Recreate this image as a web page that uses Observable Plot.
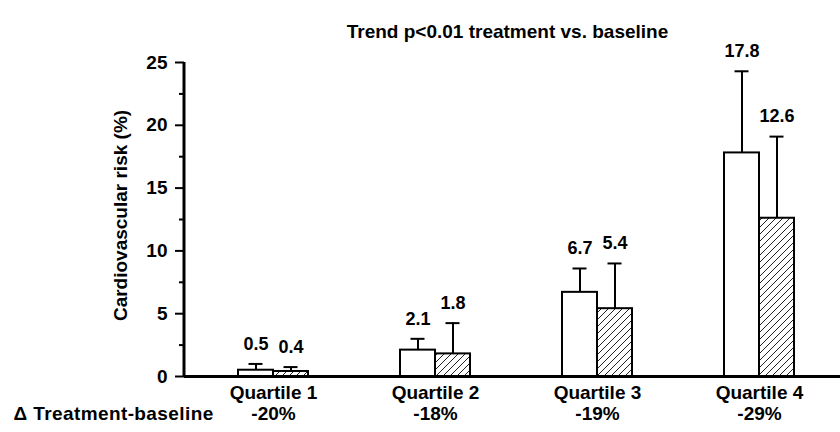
<!DOCTYPE html>
<html><head><meta charset="utf-8">
<script src="https://cdn.jsdelivr.net/npm/d3@7"></script>
<script src="https://cdn.jsdelivr.net/npm/@observablehq/plot@0.6"></script>
<style>
body{margin:0;background:#fff;font-family:"Liberation Sans",Arial,sans-serif}
#chart svg{display:block}
</style>
</head><body>
<svg width="0" height="0" style="position:absolute"><defs>
<pattern id="hatch" patternUnits="userSpaceOnUse" width="7" height="7">
<path d="M-1,1 l2,-2 M0,7 l7,-7 M6,8 l2,-2" stroke="#222" stroke-width="1"/>
</pattern></defs></svg>
<div id="chart"></div>
<script>
const title = "Trend p<0.01 treatment vs. baseline";
const yLabel = "Cardiovascular risk (%)";
const deltaLabel = "Δ Treatment-baseline";
const quartiles = ["Quartile 1", "Quartile 2", "Quartile 3", "Quartile 4"];
const deltas = ["-20%", "-18%", "-19%", "-29%"];
const baseline = [0.5, 2.1, 6.7, 17.8];
const baselineErr = [0.5, 0.9, 1.9, 6.5];
const treatment = [0.4, 1.8, 5.4, 12.6];
const treatmentErr = [0.35, 2.45, 3.6, 6.5];
const majorTicks = [0, 5, 10, 15, 20, 25];
const minorTicks = [2.5, 7.5, 12.5, 17.5, 22.5];

const rows = quartiles.map((q, i) => ({
  q, delta: deltas[i],
  base: baseline[i], baseTop: baseline[i] + baselineErr[i],
  treat: treatment[i], treatTop: treatment[i] + treatmentErr[i]
}));

const half = 81, bw = 35, cap = 7;
const font = 19;
const yMax = majorTicks[majorTicks.length - 1];

const chart = Plot.plot({
  width: 840, height: 432,
  marginLeft: 184, marginRight: 0, marginTop: 62, marginBottom: 56,
  style: {fontFamily: "'Liberation Sans', Arial, sans-serif", fontWeight: "bold", background: "white", color: "black"},
  x: {type: "band", domain: quartiles, range: [192, 840], padding: 0, axis: null},
  y: {domain: [0, yMax], axis: null},
  marks: [
    Plot.rectY(rows, {x: "q", y: "base", fill: "white", stroke: "black", strokeWidth: 2, insetLeft: half - bw, insetRight: half}),
    Plot.rectY(rows, {x: "q", y: "treat", fill: "url(#hatch)", stroke: "black", strokeWidth: 2, insetLeft: half, insetRight: half - bw}),
    Plot.ruleX(rows, {x: "q", y1: "base", y2: "baseTop", dx: -bw / 2, strokeWidth: 2}),
    Plot.ruleX(rows, {x: "q", y1: "treat", y2: "treatTop", dx: bw / 2, strokeWidth: 2}),
    Plot.tickY(rows, {x: "q", y: "baseTop", insetLeft: half - bw / 2 - cap, insetRight: half + bw / 2 - cap, strokeWidth: 2}),
    Plot.tickY(rows, {x: "q", y: "treatTop", insetLeft: half + bw / 2 - cap, insetRight: half - bw / 2 - cap, strokeWidth: 2}),
    Plot.text(rows, {x: "q", y: "baseTop", text: d => d.base.toFixed(1), dx: -bw / 2, dy: -20, fontSize: 18}),
    Plot.text(rows, {x: "q", y: "treatTop", text: d => d.treat.toFixed(1), dx: bw / 2, dy: -20, fontSize: 18}),
    Plot.ruleY([0], {strokeWidth: 3}),
    Plot.axisY({ticks: majorTicks, tickSize: 9, tickPadding: 8, fontSize: font, strokeWidth: 2, label: null}),
    Plot.axisY({ticks: minorTicks, tickSize: 5, tickFormat: () => "", strokeWidth: 2, label: null}),
    Plot.rectY([quartiles[0]], {x: d => d, y1: 0, y2: yMax, insetLeft: -9.5, insetRight: 2 * half + 6.5, fill: "#000"}),
    Plot.text(rows, {x: "q", text: "q", frameAnchor: "bottom", dy: 22, fontSize: font}),
    Plot.text(rows, {x: "q", text: "delta", frameAnchor: "bottom", dy: 43, fontSize: font}),
    Plot.text([deltaLabel], {text: d => d, frameAnchor: "bottom-left", textAnchor: "start", dx: -171, dy: 43, fontSize: font}),
    Plot.text([yLabel], {text: d => d, frameAnchor: "left", textAnchor: "middle", rotate: -90, dx: -64, dy: -4, fontSize: 19}),
    Plot.text([title], {text: d => d, frameAnchor: "top", dx: -5, dy: -38, fontSize: 19})
  ]
});
d3.select(chart).selectAll("text").filter(function () { return this.textContent === deltaLabel; })
  .style("letter-spacing", "0.4px");
document.getElementById("chart").appendChild(chart);
</script>
</body></html>
